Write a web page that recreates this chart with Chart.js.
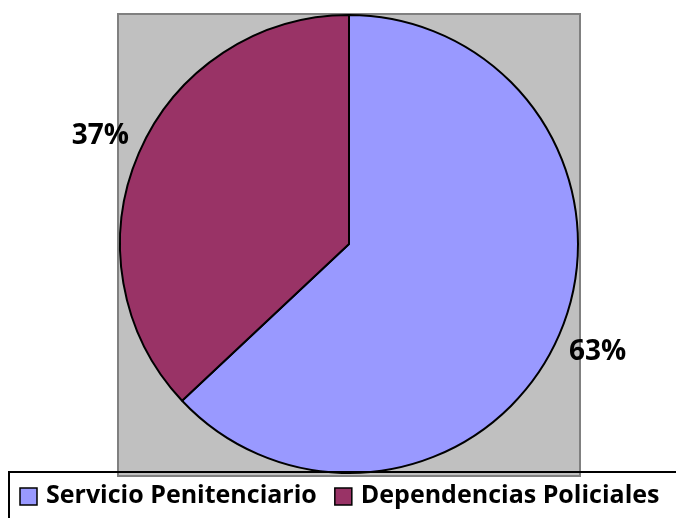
<!DOCTYPE html>
<html>
<head>
<meta charset="utf-8">
<script src="https://cdn.jsdelivr.net/npm/chart.js@4/dist/chart.umd.min.js"></script>
<style>
html,body{margin:0;padding:0;background:#fff;}
#wrap{width:676px;height:518px;position:relative;}
</style>
</head>
<body>
<div id="wrap"><canvas id="c" width="676" height="518"></canvas></div>
<script>
const categories = ["Servicio Penitenciario", "Dependencias Policiales"];
const values = [63, 37];
const colors = ["#9999FF", "#993366"];

const FONT = "'Open Sans', sans-serif";

const plotBg = {
  id: 'plotBg',
  beforeDraw(chart) {
    const ctx = chart.ctx;
    ctx.save();
    ctx.fillStyle = '#C0C0C0';
    ctx.fillRect(118, 14, 462, 462);
    ctx.strokeStyle = '#808080';
    ctx.lineWidth = 2;
    ctx.strokeRect(118, 14, 462, 462);
    ctx.restore();
  }
};

const labelsPlugin = {
  id: 'pctLabels',
  afterDatasetsDraw(chart) {
    const ctx = chart.ctx;
    const meta = chart.getDatasetMeta(0);
    const data = chart.data.datasets[0].data;
    const total = data.reduce((a, b) => a + b, 0);
    ctx.save();
    ctx.font = "bold 28px " + FONT;
    ctx.fillStyle = '#000';
    ctx.textAlign = 'center';
    ctx.textBaseline = 'middle';
    meta.data.forEach((arc, i) => {
      const p = arc.getProps(['x', 'y', 'startAngle', 'endAngle', 'outerRadius'], true);
      const mid = (p.startAngle + p.endAngle) / 2;
      const r = p.outerRadius + 42;
      const x = p.x + Math.cos(mid) * r;
      const y = p.y + Math.sin(mid) * r;
      ctx.fillText(Math.round(data[i] / total * 100) + '%', x, y);
    });
    ctx.restore();
  }
};

const legendPlugin = {
  id: 'boxLegend',
  afterDraw(chart) {
    const ctx = chart.ctx;
    ctx.save();
    ctx.strokeStyle = '#000';
    ctx.lineWidth = 2;
    ctx.strokeRect(9, 472, 700, 60);
    ctx.font = "bold 25px " + FONT;
    ctx.textBaseline = 'middle';
    ctx.textAlign = 'left';
    let x = 20;
    const y = 496;
    chart.data.labels.forEach((lab, i) => {
      ctx.fillStyle = chart.data.datasets[0].backgroundColor[i];
      ctx.fillRect(x, y - 8, 17, 17);
      ctx.lineWidth = 1.5;
      ctx.strokeRect(x, y - 8, 17, 17);
      ctx.fillStyle = '#000';
      ctx.fillText(lab, x + 26, y);
      x += 26 + ctx.measureText(lab).width + 18;
    });
    ctx.restore();
  }
};

new Chart(document.getElementById('c'), {
  type: 'pie',
  data: {
    labels: categories,
    datasets: [{
      data: values,
      backgroundColor: colors,
      borderColor: '#000',
      borderWidth: 2
    }]
  },
  options: {
    responsive: false,
    animation: false,
    layout: { padding: { left: 118, right: 96, top: 14, bottom: 44 } },
    plugins: {
      legend: { display: false },
      tooltip: { enabled: false }
    }
  },
  plugins: [plotBg, labelsPlugin, legendPlugin]
});
</script>
</body>
</html>
